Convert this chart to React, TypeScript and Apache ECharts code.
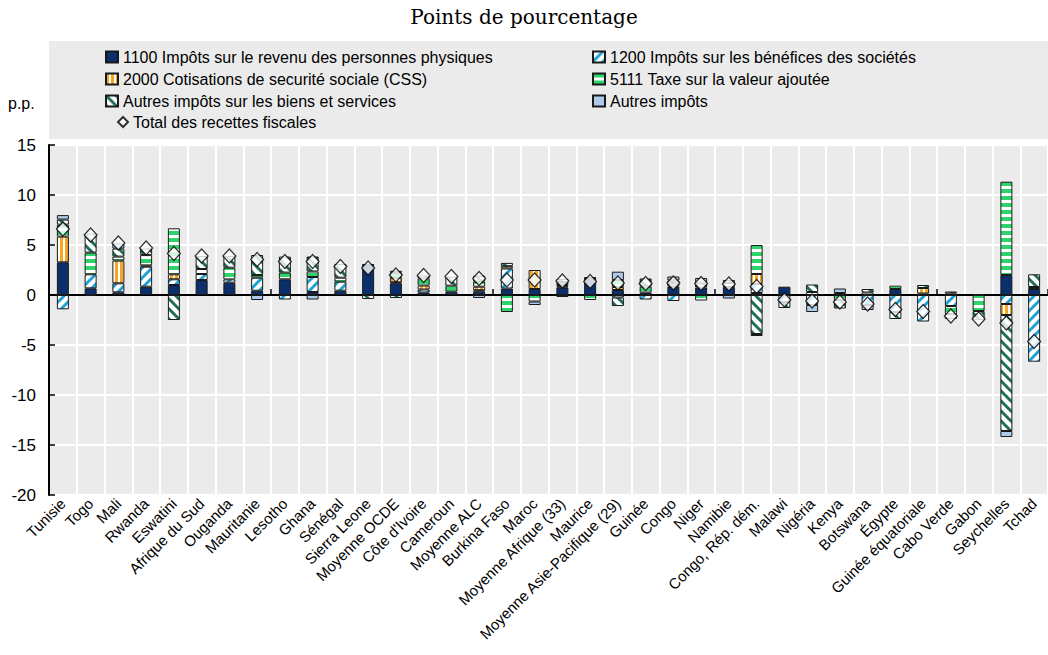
import React, { useEffect, useRef } from "react";
import * as echarts from "echarts";

const categories = [
  "Tunisie", "Togo", "Mali", "Rwanda", "Eswatini", "Afrique du Sud", "Ouganda", "Mauritanie",
  "Lesotho", "Ghana", "Sénégal", "Sierra Leone", "Moyenne OCDE", "Côte d'Ivoire", "Cameroun",
  "Moyenne ALC", "Burkina Faso", "Maroc", "Moyenne Afrique (33)", "Maurice",
  "Moyenne Asie-Pacifique (29)", "Guinée", "Congo", "Niger", "Namibie", "Congo, Rép. dém.",
  "Malawi", "Nigéria", "Kenya", "Botswana", "Égypte", "Guinée équatoriale", "Cabo Verde",
  "Gabon", "Seychelles", "Tchad",
];

const pitValues = [3.27, 0.67, 0.27, 0.83, 1.0, 1.5, 1.23, 0.43, 1.57, 0.3, 0.43, 3.1, 1.17, 0.25, 0.33, 0.33, 0.65, 0.6, 0.75, 1.8, 0.5, 0.25, 0.85, 0.75, 0.8, 0.2, 0.83, 0, 0.2, 0, 0.6, 0.15, 0.15, 0.1, 2.0, 0.6];
const citValues = [-1.43, 1.4, 0.9, 2.0, 0.57, 0.6, 0.33, 1.3, -0.45, 1.5, 0.9, 0, 0.1, 0.3, 0, 0.15, 2.0, 0, 0.1, 0, -0.25, -0.45, -0.6, 0, 0, 0.9, -0.7, -1.0, 0, -1.0, -1.7, -2.65, -1.1, 0, -0.9, -6.67];
const sscValues = [2.57, -0.1, 2.27, 0.13, 0.5, 0, 0, 0, 0, 0, 0, 0, 0.45, 0.4, 0, 0.35, 0.23, 1.9, 0.15, 0, 0.3, 0, 0, 0, 0, 1.0, 0, 0, 0, 0, 0, 0.55, 0, 0, -1.1, 0];
const vatValues = [1.2, 2.17, 0.4, 1.03, 4.6, 0.5, 1.17, 0.27, 0.67, 0.55, 0.4, 0, 0.5, 0.7, 0.6, 0.5, -1.7, -0.65, 0.3, -0.5, 0.7, 0.6, 0.3, -0.55, 0.4, 2.9, 0, 0.3, -0.5, 0.25, 0.33, 0, -0.8, -1.6, 9.33, 0.2];
const otherGoodsValues = [0.5, 1.9, 0.8, 0.67, -2.5, 1.3, 1.17, 2.0, 1.6, 1.5, 1.37, -0.4, -0.3, 0.3, 0.9, 0.6, 0.33, 0, 0.3, 0, -0.85, 0.8, 0.3, 0.4, 0.3, -3.9, -0.6, 0.75, -0.85, 0.35, -0.7, 0.3, 0.2, -0.9, -11.6, 1.27];
const otherTaxValues = [0.45, 0, 0.53, 0, 0, 0, 0, -0.5, 0, -0.45, 0, 0, 0.2, 0, 0, -0.3, 0, -0.35, -0.2, 0, 0.83, 0, 0.4, 0.55, -0.35, -0.2, 0, -0.7, 0.45, -0.5, 0, 0, -0.5, 0, -0.6, 0];
const totalValues = [6.6, 6.0, 5.2, 4.7, 4.15, 3.9, 3.9, 3.55, 3.35, 3.35, 2.85, 2.7, 2.0, 1.95, 1.85, 1.65, 1.5, 1.5, 1.4, 1.35, 1.2, 1.15, 1.2, 1.15, 1.1, 0.85, -0.5, -0.6, -0.7, -0.9, -1.45, -1.65, -2.1, -2.4, -2.8, -4.65];

const seriesNames = {
  pit: "1100 Impôts sur le revenu des personnes physiques",
  cit: "1200 Impôts sur les bénéfices des sociétés",
  ssc: "2000 Cotisations de securité sociale (CSS)",
  vat: "5111 Taxe sur la valeur ajoutée",
  goods: "Autres impôts sur les biens et services",
  other: "Autres impôts",
  total: "Total des recettes fiscales",
};

const FONT = "'Liberation Sans', Arial, Helvetica, sans-serif";

function makePattern(w: number, h: number, draw: (ctx: CanvasRenderingContext2D) => void) {
  const c = document.createElement("canvas");
  c.width = w;
  c.height = h;
  const ctx = c.getContext("2d") as CanvasRenderingContext2D;
  draw(ctx);
  return { image: c.toDataURL(), repeat: "repeat", imageWidth: w, imageHeight: h };
}

function diag(color: string, forward: boolean) {
  return makePattern(10, 10, (ctx) => {
    ctx.fillStyle = "#ffffff";
    ctx.fillRect(0, 0, 10, 10);
    ctx.strokeStyle = color;
    ctx.lineWidth = 3;
    const segs = forward
      ? [[0, 10, 10, 0], [-5, 5, 5, -5], [5, 15, 15, 5]]
      : [[0, 0, 10, 10], [-5, 5, 5, 15], [5, -5, 15, 5]];
    segs.forEach(([a, b, c2, d]) => {
      ctx.beginPath();
      ctx.moveTo(a, b);
      ctx.lineTo(c2, d);
      ctx.stroke();
    });
  });
}

export default function App() {
  const ref = useRef<HTMLDivElement>(null);

  useEffect(() => {
    if (!ref.current) return;
    const chart = echarts.init(ref.current, null, { renderer: "svg" });

    const citPat = diag("#1ea2d6", true);
    const goodsPat = diag("#1f6e5c", false);
    const sscPat = makePattern(5, 5, (ctx) => {
      ctx.fillStyle = "#f6a623";
      ctx.fillRect(0, 0, 5, 5);
      ctx.fillStyle = "#ffffff";
      ctx.fillRect(3, 0, 2, 5);
    });
    const vatPat = makePattern(7, 7, (ctx) => {
      ctx.fillStyle = "#2fd36b";
      ctx.fillRect(0, 0, 7, 7);
      ctx.fillStyle = "#ffffff";
      ctx.fillRect(0, 4, 7, 3);
    });

    const clean = (arr: number[]) => arr.map((v) => (v === 0 ? "-" : v));
    const barBase = {
      type: "bar",
      stack: "total",
      barWidth: 12,
      xAxisIndex: 0,
      emphasis: { disabled: true },
    };
    const border = { borderColor: "#1a1a1a", borderWidth: 1 };

    const legendText = { fontSize: 16, fontFamily: FONT, color: "#000" };
    const mkLegend = (name: string, left: number, top: number, icon = "rect", w = 12, h = 11) => ({
      data: [{ name, icon }],
      left,
      top,
      orient: "horizontal",
      padding: 0,
      itemWidth: w,
      itemHeight: h,
      itemGap: 0,
      selectedMode: false,
      textStyle: legendText,
    });

    chart.setOption({
      animation: false,
      legend: [
        mkLegend(seriesNames.pit, 105, 49),
        mkLegend(seriesNames.ssc, 105, 71),
        mkLegend(seriesNames.goods, 105, 93),
        mkLegend(seriesNames.total, 117, 114, "diamond", 10, 10),
        mkLegend(seriesNames.cit, 592, 49),
        mkLegend(seriesNames.vat, 592, 71),
        mkLegend(seriesNames.other, 592, 93),
      ],
      graphic: [
        {
          type: "rect",
          left: 49,
          top: 41,
          shape: { width: 1000, height: 98 },
          style: { fill: "#ebebeb" },
          z: -10,
        },
        {
          type: "text",
          left: "center",
          top: 7,
          style: {
            text: "Points de pourcentage",
            fontSize: 20,
            fontFamily: "'DejaVu Serif', 'Liberation Serif', serif",
            fill: "#000",
          },
        },
        {
          type: "text",
          left: 8,
          top: 95,
          style: { text: "p.p.", fontSize: 16, fontFamily: FONT, fill: "#000" },
        },
      ],
      grid: {
        left: 49,
        right: -9,
        top: 145,
        bottom: 160,
        show: true,
        backgroundColor: "#ebebeb",
        borderWidth: 0,
      },
      xAxis: [
        {
          type: "category",
          data: categories,
          position: "bottom",
          axisLine: { show: false, onZero: false },
          axisTick: { show: false },
          axisLabel: {
            interval: 0,
            rotate: 45,
            fontSize: 15,
            fontFamily: FONT,
            color: "#000",
            margin: 6,
          },
          splitLine: { show: true, lineStyle: { color: "#ffffff", width: 2 } },
        },
        {
          type: "category",
          data: categories,
          position: "bottom",
          axisLine: { show: true, onZero: true, lineStyle: { color: "#000", width: 2 } },
          axisTick: { show: true, inside: true, length: 6, lineStyle: { color: "#000", width: 1.5 } },
          axisLabel: { show: false },
          splitLine: { show: false },
        },
      ],
      yAxis: {
        type: "value",
        min: -20,
        max: 15,
        interval: 5,
        axisLine: { show: true, lineStyle: { color: "#000", width: 2 } },
        axisTick: { show: true, inside: true, length: 6, lineStyle: { color: "#000", width: 1.5 } },
        axisLabel: { fontSize: 17, fontFamily: FONT, color: "#000", margin: 13 },
        splitLine: { show: true, lineStyle: { color: "#ffffff", width: 2 } },
      },
      series: [
        { ...barBase, name: seriesNames.pit, data: clean(pitValues), itemStyle: { color: "#0a2f6b", ...border } },
        { ...barBase, name: seriesNames.cit, data: clean(citValues), itemStyle: { color: citPat, ...border } },
        { ...barBase, name: seriesNames.ssc, data: clean(sscValues), itemStyle: { color: sscPat, ...border } },
        { ...barBase, name: seriesNames.vat, data: clean(vatValues), itemStyle: { color: vatPat, ...border } },
        { ...barBase, name: seriesNames.goods, data: clean(otherGoodsValues), itemStyle: { color: goodsPat, ...border } },
        { ...barBase, name: seriesNames.other, data: clean(otherTaxValues), itemStyle: { color: "#aecbeb", ...border } },
        {
          type: "scatter",
          name: seriesNames.total,
          data: totalValues,
          symbol: "diamond",
          symbolSize: [13, 14],
          z: 10,
          emphasis: { disabled: true },
          itemStyle: { color: "#ffffff", borderColor: "#000", borderWidth: 1.2 },
        },
      ],
    });

    return () => chart.dispose();
  }, []);

  return (
    <div
      ref={ref}
      style={{ position: "absolute", left: 0, top: 0, width: 1048, height: 655, background: "#fff" }}
    />
  );
}
